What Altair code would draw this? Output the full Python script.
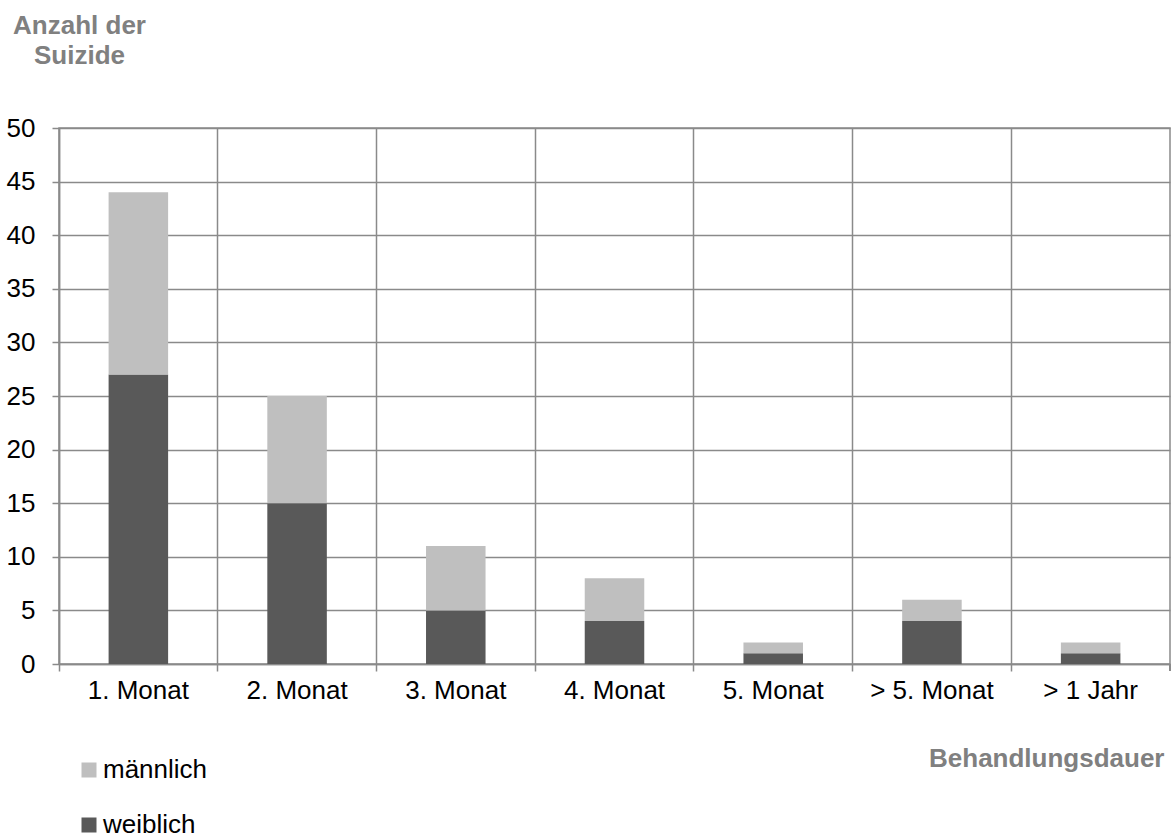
import altair as alt
import pandas as pd

# Suizide nach Behandlungsdauer, getrennt nach Geschlecht
kategorien = ["1. Monat", "2. Monat", "3. Monat", "4. Monat", "5. Monat", "> 5. Monat", "> 1 Jahr"]
weiblich = [27, 15, 5, 4, 1, 4, 1]
maennlich = [17, 10, 6, 4, 1, 2, 1]
y_ticks = [0, 5, 10, 15, 20, 25, 30, 35, 40, 45, 50]

rows = []
for k, w, m in zip(kategorien, weiblich, maennlich):
    rows.append({"Dauer": k, "Geschlecht": "weiblich", "Anzahl": w, "ord": 0})
    rows.append({"Dauer": k, "Geschlecht": "männlich", "Anzahl": m, "ord": 1})
df = pd.DataFrame(rows)

FONT = "Liberation Sans"
FS = 26
GRID = "#8a8a8a"
W, H = 1111, 536

x_scale = alt.Scale(domain=kategorien, paddingInner=0, paddingOuter=0)
y_scale = alt.Scale(domain=[0, 50], nice=False)

# Gestapelte Balken; Gitter und Striche an den Kategoriegrenzen, Beschriftung mittig
bars = alt.Chart(df).mark_bar(width={"band": 0.375}).encode(
    x=alt.X("Dauer:N", scale=x_scale, sort=kategorien,
            axis=alt.Axis(title="Behandlungsdauer", orient="bottom", grid=True, bandPosition=0,
                          gridColor=GRID, gridWidth=1.5, domainColor=GRID, domainWidth=1.5,
                          tickColor=GRID, tickWidth=1.5, tickSize=7,
                          labelAngle=0, labelFont=FONT, labelFontSize=FS, labelColor="#000000",
                          labelPadding=6, labelAlign="center",
                          titleFont=FONT, titleFontSize=FS, titleFontWeight="bold",
                          titleColor="#808080", titleAnchor="end", titleAlign="right",
                          titleX=W - 6, titleY=102, titleBaseline="alphabetic")),
    y=alt.Y("Anzahl:Q", stack="zero", scale=y_scale,
            axis=alt.Axis(values=y_ticks, grid=True, gridColor=GRID, gridWidth=1.5,
                          domainColor=GRID, domainWidth=1.5, tickColor=GRID, tickWidth=1.5,
                          tickSize=7, labelFont=FONT, labelFontSize=FS, labelColor="#000000",
                          labelPadding=17,
                          title=["Anzahl der", "Suizide"], titleAngle=0, titleAlign="center",
                          titleFont=FONT, titleFontSize=FS, titleFontWeight="bold",
                          titleColor="#808080", titleX=20, titleY=-95,
                          titleBaseline="alphabetic", titleLineHeight=30)),
    color=alt.Color("Geschlecht:N",
                    scale=alt.Scale(domain=["männlich", "weiblich"], range=["#bfbfbf", "#595959"]),
                    legend=alt.Legend(title=None, orient="none", legendX=17, legendY=629,
                                      symbolType="square", symbolSize=225, symbolStrokeWidth=0,
                                      labelFont=FONT, labelFontSize=FS, labelColor="#000000",
                                      rowPadding=29, labelOffset=1)),
    order=alt.Order("ord:Q"),
)

end_tick = alt.Chart(df).mark_rule(color=GRID, strokeWidth=1.5).encode(
    x=alt.value(W), y=alt.value(H), y2=alt.value(H + 7)
)

chart = alt.layer(bars, end_tick).properties(
    width=W, height=H,
    autosize=alt.AutoSizeParams(type="none"),
    padding={"left": 59, "top": 128, "right": 5, "bottom": 170},
    background="white",
).configure_view(stroke=GRID, strokeWidth=1.5)

chart.save("out.html", embed_options={"renderer": "svg", "actions": False})
